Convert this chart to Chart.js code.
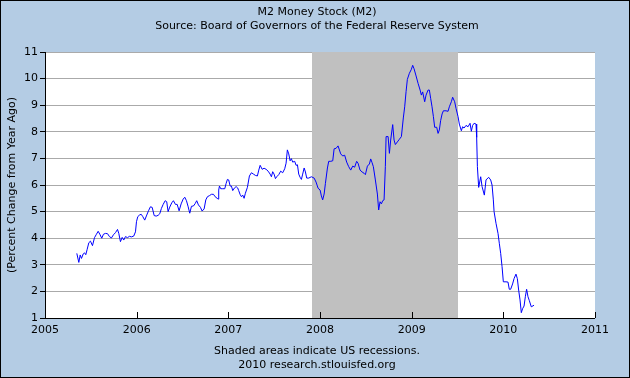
<!DOCTYPE html>
<html><head><meta charset="utf-8">
<script src="https://cdn.jsdelivr.net/npm/chart.js@4.4.1/dist/chart.umd.min.js"></script>
<style>html,body{margin:0;padding:0;background:#B4CCE4;}canvas{display:block;}</style>
</head><body>
<canvas id="c" width="630" height="378"></canvas>
<script>
// Weekly observation dates (decimal years) and M2 % change from year ago
const dates = [
2005.347,2005.369,2005.384,2005.398,2005.417,2005.431,2005.445,2005.460,2005.478,2005.496,
2005.518,2005.540,2005.558,2005.580,2005.598,2005.619,2005.638,2005.660,2005.682,2005.703,
2005.725,2005.747,2005.769,2005.791,2005.805,2005.823,2005.842,2005.859,2005.878,2005.900,
2005.921,2005.943,2005.968,2005.987,2005.998,2006.012,2006.031,2006.049,2006.067,2006.088,
2006.110,2006.129,2006.150,2006.169,2006.191,2006.213,2006.234,2006.252,2006.270,2006.289,
2006.311,2006.328,2006.343,2006.361,2006.383,2006.401,2006.423,2006.442,2006.463,2006.485,
2006.507,2006.525,2006.543,2006.562,2006.579,2006.598,2006.619,2006.638,2006.655,2006.674,
2006.696,2006.714,2006.736,2006.754,2006.772,2006.794,2006.816,2006.838,2006.856,2006.878,
2006.889,2006.895,2006.903,2006.917,2006.939,2006.961,2006.976,2006.990,2007.004,2007.020,
2007.034,2007.048,2007.067,2007.085,2007.102,2007.113,2007.129,2007.143,2007.157,2007.172,
2007.186,2007.208,2007.230,2007.252,2007.274,2007.296,2007.317,2007.332,2007.347,2007.369,
2007.390,2007.412,2007.434,2007.456,2007.470,2007.484,2007.499,2007.514,2007.528,2007.550,
2007.571,2007.593,2007.615,2007.630,2007.644,2007.659,2007.674,2007.688,2007.702,2007.724,
2007.739,2007.754,2007.768,2007.783,2007.797,2007.811,2007.827,2007.841,2007.855,2007.877,
2007.906,2007.936,2007.957,2007.979,2008.001,2008.015,2008.029,2008.045,2008.059,2008.081,
2008.095,2008.117,2008.139,2008.154,2008.176,2008.197,2008.226,2008.248,2008.269,2008.291,
2008.313,2008.335,2008.357,2008.378,2008.400,2008.415,2008.437,2008.459,2008.481,2008.495,
2008.517,2008.539,2008.553,2008.568,2008.582,2008.604,2008.626,2008.640,2008.655,2008.670,
2008.684,2008.699,2008.713,2008.721,2008.743,2008.757,2008.771,2008.793,2008.808,2008.822,
2008.844,2008.866,2008.888,2008.909,2008.924,2008.939,2008.953,2008.975,2008.997,2009.011,
2009.026,2009.048,2009.070,2009.092,2009.106,2009.120,2009.142,2009.157,2009.179,2009.193,
2009.207,2009.222,2009.237,2009.251,2009.273,2009.288,2009.302,2009.316,2009.332,2009.346,
2009.375,2009.397,2009.411,2009.433,2009.447,2009.469,2009.484,2009.506,2009.520,2009.542,
2009.556,2009.571,2009.593,2009.615,2009.637,2009.651,2009.665,2009.681,2009.702,2009.709,
2009.717,2009.731,2009.753,2009.768,2009.793,2009.811,2009.840,2009.862,2009.877,2009.891,
2009.899,2009.920,2009.942,2009.956,2009.971,2009.986,2010.000,2010.029,2010.051,2010.065,
2010.080,2010.101,2010.117,2010.138,2010.153,2010.167,2010.182,2010.196,2010.210,2010.226,
2010.240,2010.254,2010.269,2010.284,2010.305,2010.335
];
const m2Growth = [
3.43,3.09,3.37,3.24,3.41,3.45,3.38,3.58,3.83,3.89,
3.72,4.02,4.13,4.26,4.15,4.00,4.15,4.18,4.17,4.06,
4.01,4.13,4.21,4.33,4.18,3.87,4.03,3.93,4.06,4.02,
4.07,4.05,4.08,4.24,4.62,4.81,4.87,4.90,4.81,4.68,
4.87,5.03,5.18,5.16,4.85,4.83,4.86,4.92,5.12,5.27,
5.41,5.37,5.00,5.17,5.33,5.41,5.27,5.27,5.03,5.29,
5.47,5.54,5.41,5.18,4.94,5.20,5.21,5.30,5.41,5.25,
5.16,5.02,5.10,5.44,5.56,5.60,5.65,5.65,5.56,5.50,
5.47,5.81,5.96,5.86,5.86,5.86,6.06,6.21,6.19,5.96,
5.96,5.79,5.89,5.94,5.89,5.79,5.64,5.56,5.62,5.50,
5.69,5.91,6.34,6.46,6.41,6.36,6.34,6.56,6.74,6.59,
6.63,6.59,6.52,6.41,6.31,6.50,6.41,6.24,6.31,6.39,
6.52,6.46,6.61,6.82,7.32,7.17,6.91,6.99,6.86,6.89,
6.74,6.76,6.41,6.29,6.21,6.41,6.64,6.49,6.26,6.26,
6.31,6.26,6.11,5.88,5.81,5.59,5.44,5.66,6.06,6.64,
6.89,6.89,6.91,7.36,7.38,7.47,7.17,7.09,7.12,6.86,
6.69,6.56,6.71,6.67,6.89,6.82,6.56,6.49,6.44,6.39,
6.71,6.79,6.98,6.84,6.69,6.19,5.66,5.06,5.37,5.29,
5.41,5.44,6.69,7.82,7.82,7.19,7.69,8.27,7.69,7.52,
7.62,7.72,7.82,8.52,8.94,9.51,9.97,10.20,10.35,10.50,
10.37,10.10,9.82,9.57,9.38,9.50,9.13,9.38,9.57,9.57,
9.26,8.94,8.57,8.17,8.17,7.94,8.07,8.42,8.67,8.79,
8.79,8.77,8.94,9.13,9.30,9.13,8.88,8.57,8.29,8.04,
8.19,8.14,8.24,8.19,8.32,8.02,8.24,8.32,8.29,7.79,
6.69,5.91,6.31,5.94,5.62,6.19,6.29,6.19,6.00,5.44,
5.00,4.56,4.18,3.81,3.43,2.93,2.36,2.36,2.35,2.08,
2.08,2.28,2.48,2.65,2.48,2.05,1.68,1.20,1.35,1.45,
1.80,2.08,1.80,1.65,1.42,1.48
];
const yearTicks = ['2005','2006','2007','2008','2009','2010','2011'];
const recessions = [[2007.917, 2009.5]];
const titleLines = ['M2 Money Stock (M2)', 'Source: Board of Governors of the Federal Reserve System'];
const footLines = ['Shaded areas indicate US recessions.', '2010 research.stlouisfed.org'];
const yTitle = '(Percent Change from Year Ago)';

const FONT = 'DejaVu Sans';
const points = dates.map((d, i) => ({x: d, y: m2Growth[i]}));

const framePlugin = {
  id: 'frame',
  beforeDraw(chart) {
    const {ctx, chartArea: a, width, height} = chart;
    ctx.save();
    ctx.fillStyle = '#B4CCE4';
    ctx.fillRect(0, 0, width, height);
    ctx.fillStyle = '#FFFFFF';
    ctx.fillRect(a.left, a.top, a.right - a.left, a.bottom - a.top);
    ctx.strokeStyle = '#000';
    ctx.lineWidth = 1;
    ctx.strokeRect(0.5, 0.5, width - 1, height - 1);
    ctx.restore();
  },
  beforeDatasetsDraw(chart) {
    const {ctx, chartArea: a, scales: {x}} = chart;
    ctx.save();
    ctx.fillStyle = '#C0C0C0';
    recessions.forEach(([s, e]) => {
      const x0 = Math.round(x.getPixelForValue(s));
      const x1 = Math.round(x.getPixelForValue(e));
      ctx.fillRect(x0, a.top, x1 - x0, a.bottom - a.top);
    });
    ctx.restore();
  },
  afterDatasetsDraw(chart) {
    const {ctx, chartArea: a, scales: {x}} = chart;
    ctx.save();
    ctx.strokeStyle = '#000';
    ctx.lineWidth = 1;
    ctx.beginPath();
    ctx.moveTo(a.left, Math.round(a.bottom) + 0.5);
    ctx.lineTo(a.right, Math.round(a.bottom) + 0.5);
    yearTicks.forEach(t => {
      const px = Math.round(x.getPixelForValue(+t)) + 0.5;
      ctx.moveTo(px, a.bottom);
      ctx.lineTo(px, a.bottom - 6);
    });
    ctx.stroke();
    ctx.fillStyle = '#000';
    ctx.font = '11px "' + FONT + '"';
    ctx.textAlign = 'center';
    ctx.textBaseline = 'middle';
    ctx.fillText(titleLines[0], 317, 12);
    ctx.fillText(titleLines[1], 317, 26);
    ctx.fillText(footLines[0], 317, 351);
    ctx.fillText(footLines[1], 317, 365);
    ctx.restore();
  }
};

new Chart(document.getElementById('c'), {
  type: 'line',
  data: {
    datasets: [{
      data: points,
      borderColor: '#0000FF',
      borderWidth: 1,
      pointRadius: 0,
      tension: 0,
      fill: false
    }]
  },
  options: {
    responsive: false,
    animation: false,
    devicePixelRatio: 1,
    layout: {padding: {left: 1, top: 52, right: 35, bottom: 0}},
    plugins: {legend: {display: false}, tooltip: {enabled: false}, title: {display: false}},
    scales: {
      x: {
        type: 'linear',
        min: 2005, max: 2011,
        afterBuildTicks: s => { s.ticks = yearTicks.map(t => ({value: +t})); },
        afterFit: s => { s.height = 60; },
        ticks: {
          autoSkip: false, maxRotation: 0, padding: 6,
          color: '#000', font: {family: FONT, size: 11},
          callback: v => yearTicks.find(t => +t === v) || ''
        },
        grid: {display: true, drawOnChartArea: false, drawTicks: false},
        border: {display: false}
      },
      y: {
        min: 1, max: 11,
        afterFit: s => { s.width = 44; },
        ticks: {stepSize: 1, padding: 2, color: '#000', font: {family: FONT, size: 11}},
        grid: {color: '#AAAAAA', tickColor: '#000', tickLength: 5},
        border: {display: true, color: '#000', width: 1},
        title: {display: true, text: yTitle, color: '#000', font: {family: FONT, size: 11}, padding: {top: 5, bottom: 0}}
      }
    }
  },
  plugins: [framePlugin]
});
</script>
</body></html>
